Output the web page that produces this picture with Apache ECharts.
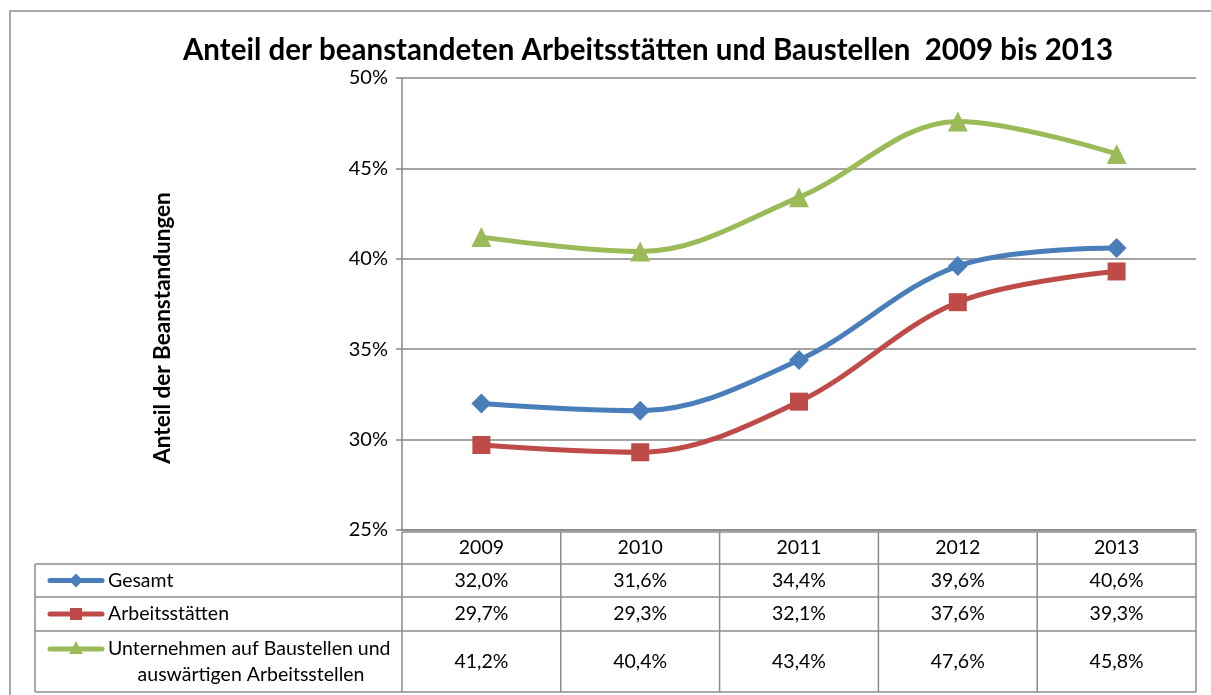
<!DOCTYPE html>
<html>
<head>
<meta charset="utf-8">
<script src="https://cdn.jsdelivr.net/npm/echarts@6/dist/echarts.min.js"></script>
<style>
  html, body { margin: 0; padding: 0; background: #fff; }
  #chart { width: 1211px; height: 695px; }
</style>
</head>
<body>
<div id="chart"></div>
<script>
// data
let years = ["2009", "2010", "2011", "2012", "2013"];
let gesamt = [32.0, 31.6, 34.4, 39.6, 40.6];
let arbeitsstaetten = [29.7, 29.3, 32.1, 37.6, 39.3];
let baustellen = [41.2, 40.4, 43.4, 47.6, 45.8];
let seriesNames = ["Gesamt", "Arbeitsstätten", "Unternehmen auf Baustellen und\nauswärtigen Arbeitsstellen"];
let colors = ["#4a7ebb", "#be4b48", "#9bbb59"];
let symbols = ["diamond", "rect", "triangle"];

let font = "Lato, 'Open Sans', sans-serif";
let grid = { left: 402, right: 15, top: 78, bottom: 165 };

let fmt = (v) => v.toFixed(1).replace(".", ",") + "%";

let chart = echarts.init(document.getElementById("chart"));

let allData = [gesamt, arbeitsstaetten, baustellen];

let series = allData.map((d, i) => ({
  name: seriesNames[i],
  type: "line",
  smooth: 0.35,
  data: d,
  symbol: symbols[i],
  symbolSize: i == 1 ? 18 : 20,
  lineStyle: { color: colors[i], width: 5 },
  itemStyle: { color: colors[i] },
  z: 3 + i
}));

chart.setOption({
  animation: false,
  title: {
    text: "Anteil der beanstandeten Arbeitsstätten und Baustellen  2009 bis 2013",
    left: 643, top: 30, textAlign: "center",
    textStyle: { fontFamily: font, fontWeight: "bold", fontSize: 29.5, color: "#000" }
  },
  grid: grid,
  xAxis: {
    type: "category",
    data: years,
    boundaryGap: true,
    axisLine: { lineStyle: { color: "#868686", width: 1.5 } },
    axisTick: { show: false },
    axisLabel: { show: false },
    splitLine: { show: false }
  },
  yAxis: {
    type: "value",
    min: 25, max: 50, interval: 5,
    axisLine: { show: true, lineStyle: { color: "#868686", width: 1.5 } },
    axisTick: { show: true, length: 6, lineStyle: { color: "#868686", width: 1.5 } },
    axisLabel: { formatter: (v) => v + "%", fontFamily: font, fontSize: 20, color: "#000", margin: 14 },
    splitLine: { lineStyle: { color: "#868686", width: 1.5 } }
  },
  series: series
});

// data table under the plot, built from the same arrays
let W = 1211, H = 695;
let x0 = grid.left, x1 = W - grid.right;
let colW = (x1 - x0) / years.length;
let tableLeft = 35;
let rowTops = [532, 564, 597, 631, 692];
let lineColor = "#8c8c8c";
let fs = 19.5;
let g = [];

// outer chart frame
g.push({ type: "rect", shape: { x: 10, y: 11, width: W + 20, height: H + 20 },
  style: { fill: null, stroke: "#8c8c8c", lineWidth: 1.5 }, silent: true });

// y axis title (placed a bit lower than the plot centre, as in the original)
g.push({ type: "text", x: 163, y: 328, rotation: Math.PI / 2,
  style: { text: "Anteil der Beanstandungen", fontFamily: font, fontWeight: "bold", fontSize: 22.5,
    fill: "#000", align: "center", verticalAlign: "middle" } });

// horizontal lines
g.push({ type: "line", shape: { x1: x0, y1: rowTops[0], x2: x1, y2: rowTops[0] }, style: { stroke: lineColor, lineWidth: 1.5 } });
for (let r = 1; r < rowTops.length; r++) {
  g.push({ type: "line", shape: { x1: tableLeft, y1: rowTops[r], x2: x1, y2: rowTops[r] }, style: { stroke: lineColor, lineWidth: 1.5 } });
}
// vertical lines
g.push({ type: "line", shape: { x1: tableLeft, y1: rowTops[1], x2: tableLeft, y2: rowTops[4] }, style: { stroke: lineColor, lineWidth: 1.5 } });
for (let c = 0; c <= years.length; c++) {
  let x = x0 + c * colW;
  g.push({ type: "line", shape: { x1: x, y1: rowTops[0], x2: x, y2: rowTops[4] }, style: { stroke: lineColor, lineWidth: 1.5 } });
}

let cellText = (txt, cx, cy) => ({
  type: "text", x: cx, y: cy,
  style: { text: txt, fontFamily: font, fontSize: fs, fill: "#000", align: "center", verticalAlign: "middle" }
});

// header
years.forEach((y, c) => g.push(cellText(y, x0 + (c + 0.5) * colW, (rowTops[0] + rowTops[1]) / 2)));

// rows
allData.forEach((d, r) => {
  let cy = (rowTops[r + 1] + rowTops[r + 2]) / 2;
  d.forEach((v, c) => g.push(cellText(fmt(v), x0 + (c + 0.5) * colW, cy)));

  // legend key
  let ky = r == 2 ? rowTops[3] + 18 : cy;
  g.push({ type: "line", shape: { x1: 50, y1: ky, x2: 102, y2: ky },
    style: { stroke: colors[r], lineWidth: 5, lineCap: "round" } });
  if (r == 0) {
    g.push({ type: "polygon", shape: { points: [[76, ky - 7], [83, ky], [76, ky + 7], [69, ky]] }, style: { fill: colors[r] } });
  } else if (r == 1) {
    g.push({ type: "rect", shape: { x: 70, y: ky - 6, width: 12, height: 12 }, style: { fill: colors[r] } });
  } else {
    g.push({ type: "polygon", shape: { points: [[76, ky - 8], [83, ky + 5], [69, ky + 5]] }, style: { fill: colors[r] } });
  }

  // label
  if (r < 2) {
    g.push({ type: "text", x: 108, y: cy,
      style: { text: seriesNames[r], fontFamily: font, fontSize: fs, fill: "#000", align: "left", verticalAlign: "middle" } });
  } else {
    let lines = seriesNames[r].split("\n");
    g.push({ type: "text", x: 108, y: rowTops[3] + 18,
      style: { text: lines[0], fontFamily: font, fontSize: fs, fill: "#000", align: "left", verticalAlign: "middle" } });
    g.push({ type: "text", x: 251, y: rowTops[3] + 44,
      style: { text: lines[1], fontFamily: font, fontSize: fs, fill: "#000", align: "center", verticalAlign: "middle" } });
  }
});

chart.setOption({ graphic: g });
</script>
</body>
</html>
